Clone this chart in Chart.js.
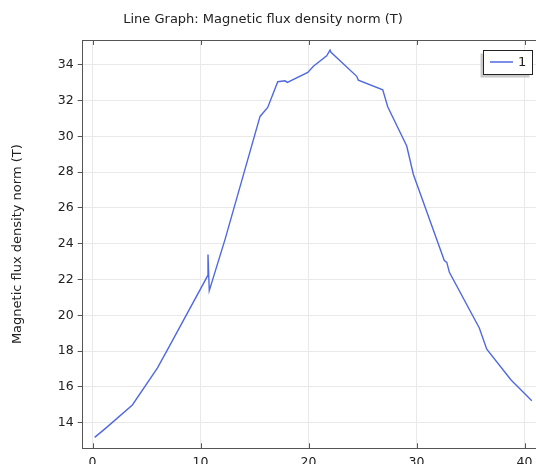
<!DOCTYPE html>
<html>
<head>
<meta charset="utf-8">
<style>
  html, body { margin: 0; padding: 0; background: #ffffff; overflow: hidden; }
  #wrap { width: 536px; height: 464px; position: relative; overflow: hidden; }
  #c { position: absolute; left: 0; top: 0; }
</style>
<script src="https://cdn.jsdelivr.net/npm/chart.js@4/dist/chart.umd.min.js"></script>
</head>
<body>
<div id="wrap"><canvas id="c" width="544" height="464"></canvas></div>
<script>
// ---- data ----
const seriesLabel = "1";
const xValues = [0.2, 1.31, 3.69, 6.0, 7.02, 10.67, 10.69, 10.81, 12.27, 15.51, 16.22, 17.15, 17.82, 18.04, 19.93, 20.45, 21.68, 21.99, 22.08, 24.46, 24.61, 26.87, 27.33, 29.09, 29.7, 32.57, 32.8, 33.04, 35.81, 36.5, 38.75, 40.67];
const yValues = [13.18, 13.74, 14.99, 17.05, 18.17, 22.22, 23.39, 21.38, 24.24, 31.11, 31.61, 33.05, 33.1, 33.01, 33.57, 33.91, 34.5, 34.82, 34.69, 33.35, 33.14, 32.6, 31.65, 29.46, 27.88, 23.06, 22.96, 22.4, 19.29, 18.11, 16.39, 15.23];
const xTickValues = [0, 10, 20, 30, 40];
const yTickValues = [14, 16, 18, 20, 22, 24, 26, 28, 30, 32, 34];
const titleText = "Line Graph: Magnetic flux density norm (T)";
const yAxisTitle = "Magnetic flux density norm (T)";

const points = xValues.map((x, i) => ({ x: x, y: yValues[i] }));

const FONT = "'DejaVu Sans', Verdana, sans-serif";
const AXIS_COLOR = '#555555';
const GRID_COLOR = '#e9e9e9';
const LINE_COLOR = '#5069e0';

const framePlugin = {
  id: 'frame',
  afterDraw(chart) {
    const ctx = chart.ctx;
    const a = chart.chartArea;
    const xs = chart.scales.x;
    ctx.save();
    // title
    ctx.fillStyle = '#222222';
    ctx.font = '13px ' + FONT;
    ctx.textAlign = 'center';
    ctx.textBaseline = 'middle';
    ctx.fillText(titleText, 263, 20);
    // top border
    ctx.strokeStyle = AXIS_COLOR;
    ctx.lineWidth = 1;
    ctx.beginPath();
    ctx.moveTo(a.left, Math.round(a.top) + 0.5);
    ctx.lineTo(a.right, Math.round(a.top) + 0.5);
    ctx.stroke();
    // inward tick marks on top and bottom
    ctx.beginPath();
    xTickValues.forEach(v => {
      const px = Math.round(xs.getPixelForValue(v)) + 0.5;
      ctx.moveTo(px, a.top);
      ctx.lineTo(px, a.top + 5);
      ctx.moveTo(px, a.bottom);
      ctx.lineTo(px, a.bottom - 5);
    });
    ctx.stroke();

    // legend box
    const ds = chart.data.datasets[0];
    const bx = 483.5, by = 50.5, bw = 49, bh = 24;
    ctx.fillStyle = '#c9c9c9';
    ctx.fillRect(bx - 3, by + 3, bw, bh);
    ctx.fillStyle = '#ffffff';
    ctx.fillRect(bx, by, bw, bh);
    ctx.strokeStyle = '#222222';
    ctx.lineWidth = 1;
    ctx.strokeRect(bx, by, bw, bh);
    ctx.strokeStyle = ds.borderColor;
    ctx.lineWidth = 1.5;
    ctx.beginPath();
    ctx.moveTo(490, 62);
    ctx.lineTo(513, 62);
    ctx.stroke();
    ctx.fillStyle = '#222222';
    ctx.font = '13px ' + FONT;
    ctx.textBaseline = 'middle';
    ctx.textAlign = 'left';
    ctx.fillText(ds.label, 518, 62.5);
    ctx.restore();
  }
};

new Chart(document.getElementById('c'), {
  type: 'line',
  data: {
    datasets: [{
      label: seriesLabel,
      data: points,
      borderColor: LINE_COLOR,
      backgroundColor: LINE_COLOR,
      borderWidth: 1.4,
      pointRadius: 0,
      tension: 0,
      fill: false
    }]
  },
  options: {
    responsive: false,
    animation: false,
    devicePixelRatio: 1,
    layout: { padding: { left: 0, right: 0, top: 40, bottom: 0 } },
    plugins: {
      legend: { display: false },
      tooltip: { enabled: false },
      title: { display: false }
    },
    scales: {
      x: {
        type: 'linear',
        position: 'bottom',
        min: -0.91,
        max: 41.8,
        afterBuildTicks(s) { s.ticks = xTickValues.map(v => ({ value: v })); },
        afterFit(s) { s.height = 15.7; s.paddingLeft = 0; s.paddingRight = 0; },
        border: { display: true, color: AXIS_COLOR, width: 1 },
        grid: { color: GRID_COLOR, lineWidth: 1, drawTicks: false },
        ticks: {
          color: '#222222',
          padding: 7,
          maxRotation: 0,
          autoSkip: false,
          font: { family: FONT, size: 12.5 }
        }
      },
      y: {
        type: 'linear',
        position: 'left',
        min: 12.57,
        max: 35.38,
        afterBuildTicks(s) { s.ticks = yTickValues.map(v => ({ value: v })); },
        afterFit(s) { s.width = 82.7; s.paddingTop = 0; s.paddingBottom = 0; },
        border: { display: true, color: AXIS_COLOR, width: 1 },
        grid: { color: GRID_COLOR, lineWidth: 1, drawTicks: true, tickLength: 5, tickColor: AXIS_COLOR },
        title: {
          display: true,
          text: yAxisTitle,
          color: '#222222',
          font: { family: FONT, size: 13 },
          padding: { top: 10, bottom: 0 }
        },
        ticks: {
          color: '#222222',
          padding: 4,
          autoSkip: false,
          font: { family: FONT, size: 12.5 }
        }
      }
    }
  },
  plugins: [framePlugin]
});
</script>
</body>
</html>
